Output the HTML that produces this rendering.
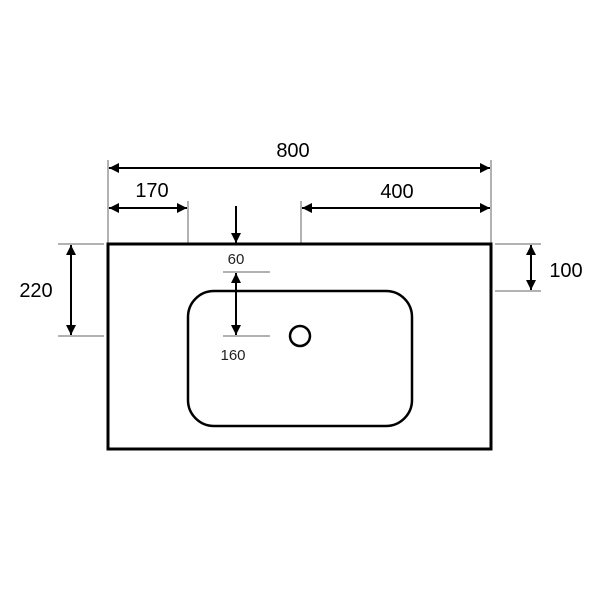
<!DOCTYPE html>
<html><head><style>html,body{margin:0;padding:0;background:#fff}svg{display:block}</style></head><body>
<svg width="600" height="600" viewBox="0 0 600 600" xmlns="http://www.w3.org/2000/svg" font-family="Liberation Sans, sans-serif">
<defs>
<marker id="a" viewBox="0 0 10 10" refX="10" refY="5" markerWidth="10" markerHeight="10" markerUnits="userSpaceOnUse" orient="auto-start-reverse"><path d="M0,0 L10,5 L0,10 z" fill="#000"/></marker>
</defs>
<g stroke="#000" fill="none">
<!-- extension lines -->
<g stroke-width="1" stroke="#666">
<line x1="108" y1="160" x2="108" y2="244"/>
<line x1="491" y1="160" x2="491" y2="244"/>
<line x1="188" y1="201" x2="188" y2="244"/>
<line x1="301" y1="201" x2="301" y2="244"/>
<line x1="58" y1="244" x2="104" y2="244"/>
<line x1="58" y1="336" x2="104" y2="336"/>
<line x1="495" y1="244" x2="541" y2="244"/>
<line x1="495" y1="291" x2="541" y2="291"/>
<line x1="223" y1="272" x2="270" y2="272"/>
<line x1="223" y1="336" x2="270" y2="336"/>
</g>
<g stroke-width="2">
<line x1="109" y1="168" x2="490" y2="168" marker-start="url(#a)" marker-end="url(#a)"/>
<line x1="109" y1="208" x2="187" y2="208" marker-start="url(#a)" marker-end="url(#a)"/>
<line x1="302" y1="208" x2="490" y2="208" marker-start="url(#a)" marker-end="url(#a)"/>
<line x1="236" y1="206" x2="236" y2="243" marker-end="url(#a)"/>
<line x1="236" y1="273" x2="236" y2="335" marker-start="url(#a)" marker-end="url(#a)"/>
<line x1="71" y1="245" x2="71" y2="335" marker-start="url(#a)" marker-end="url(#a)"/>
<line x1="531" y1="245" x2="531" y2="290" marker-start="url(#a)" marker-end="url(#a)"/>
</g>
<rect x="108" y="244" width="383" height="205" stroke-width="3"/>
<rect x="188" y="291" width="224" height="135" rx="26" stroke-width="2.5"/>
<circle cx="300" cy="336" r="10" stroke-width="2.5"/>
</g>
<g font-size="20" fill="#000" text-anchor="middle">
<text x="293" y="157">800</text>
<text x="152" y="197">170</text>
<text x="397" y="198">400</text>
<text x="36" y="297">220</text>
<text x="566" y="277">100</text>
</g>
<g font-size="15" fill="#222" text-anchor="middle">
<text x="236" y="264">60</text>
<text x="233" y="360">160</text>
</g>
</svg>
</body></html>
